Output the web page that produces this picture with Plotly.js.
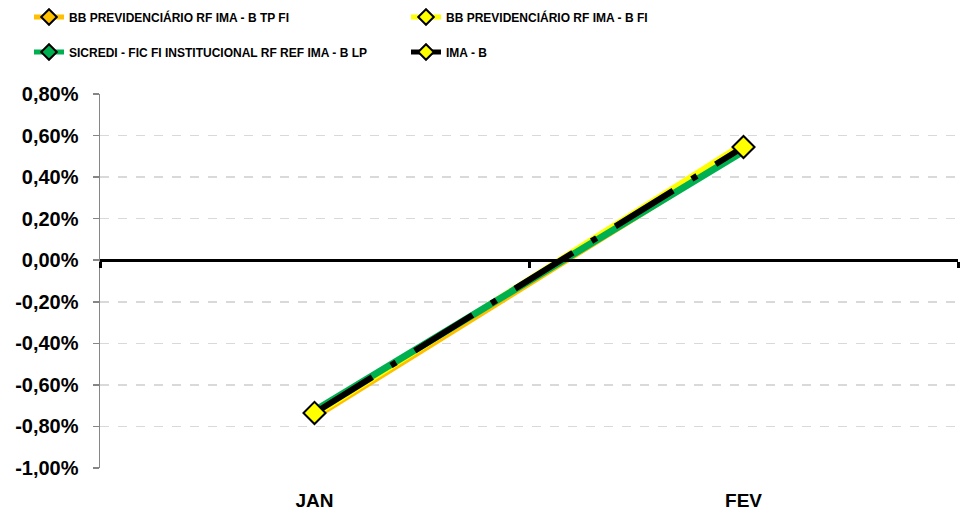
<!DOCTYPE html>
<html>
<head>
<meta charset="utf-8">
<script src="https://cdn.plot.ly/plotly-3.0.1.min.js"></script>
<style>html,body{margin:0;padding:0;background:#fff;}#chart{width:960px;height:514px;}</style>
</head>
<body>
<div id="chart"></div>
<script>
const months = ['JAN', 'FEV'];
const bbTpFi = [-0.755, 0.53];
const bbFi = [-0.745, 0.56];
const sicredi = [-0.725, 0.525];
const imaB = [-0.735, 0.545];
const seriesNames = [
  'BB PREVIDENCIÁRIO RF IMA - B TP FI',
  'BB PREVIDENCIÁRIO RF IMA - B FI',
  'SICREDI - FIC FI INSTITUCIONAL RF REF IMA - B LP',
  'IMA - B'
];
const yTickVals = [0.8, 0.6, 0.4, 0.2, 0, -0.2, -0.4, -0.6, -0.8, -1.0];
const yTickText = ['0,80%', '0,60%', '0,40%', '0,20%', '0,00%', '-0,20%', '-0,40%', '-0,60%', '-0,80%', '-1,00%'];

const legFont = {family: '"Liberation Sans", Arial, sans-serif', size: 12, color: '#000', weight: 'bold'};
const tickFont = {family: '"Liberation Sans", Arial, sans-serif', size: 20, color: '#000', weight: 'bold'};
const xTickFont = {family: '"Liberation Sans", Arial, sans-serif', size: 19, color: '#000', weight: 'bold'};

const traces = [
  {x: months, y: bbTpFi, name: seriesNames[0], type: 'scatter', mode: 'lines+markers', xaxis: 'x', legend: 'legend',
   line: {color: '#FFC000', width: 6}, marker: {symbol: 'diamond', size: 6, color: '#FFC000', line: {color: '#000', width: 1.5}}},
  {x: months, y: bbFi, name: seriesNames[1], type: 'scatter', mode: 'lines+markers', xaxis: 'x', legend: 'legend',
   line: {color: '#FFFF00', width: 6}, marker: {symbol: 'diamond', size: 6, color: '#FFFF00', line: {color: '#000', width: 1.5}}},
  {x: months, y: sicredi, name: seriesNames[2], type: 'scatter', mode: 'lines+markers', xaxis: 'x', legend: 'legend2',
   line: {color: '#00B050', width: 7}, marker: {symbol: 'diamond', size: 6, color: '#00B050', line: {color: '#000', width: 1.5}}},
  {x: months, y: imaB, name: seriesNames[3], type: 'scatter', mode: 'lines+markers', xaxis: 'x2', legend: 'legend2',
   line: {color: '#000000', width: 6, dash: '68px,22px,6px,22px'}, marker: {symbol: 'diamond', size: 17, color: '#FFFF00', line: {color: '#000', width: 2}}}
];

const legendBase = {
  orientation: 'h', xref: 'container', yref: 'container', xanchor: 'left', yanchor: 'middle',
  font: legFont, bgcolor: 'rgba(0,0,0,0)',
  entrywidth: 332, entrywidthmode: 'pixels', itemsizing: 'constant', traceorder: 'normal'
};

const layout = {
  width: 960, height: 514,
  margin: {l: 100, r: 2, t: 94, b: 46},
  paper_bgcolor: '#fff', plot_bgcolor: '#fff',
  showlegend: true,
  legend: Object.assign({}, legendBase, {x: 29 / 960, y: 1 - 17 / 514}),
  legend2: Object.assign({}, legendBase, {x: 29 / 960, y: 1 - 52 / 514}),
  xaxis: {
    type: 'category', categoryarray: months, range: [-0.5, 1.5],
    showline: false, showgrid: false, zeroline: false, ticks: '',
    tickfont: xTickFont, ticklabelstandoff: 19
  },
  xaxis2: {
    type: 'category', categoryarray: months, range: [-0.5, 1.5], overlaying: 'x',
    anchor: 'free', position: 1 / 1.8, side: 'bottom',
    showline: true, linecolor: '#000', linewidth: 3,
    showgrid: false, zeroline: false, showticklabels: false,
    ticks: 'outside', tickson: 'boundaries', ticklen: 6, tickwidth: 3, tickcolor: '#000'
  },
  yaxis: {
    range: [-1.0, 0.8], tickvals: yTickVals, ticktext: yTickText,
    showline: true, linecolor: '#868686', linewidth: 1.5,
    ticks: 'outside', ticklen: 6, tickcolor: '#868686', tickwidth: 1.5,
    showgrid: true, gridcolor: '#d9d9d9', gridwidth: 1.5, griddash: 'dash',
    zeroline: false, tickfont: tickFont, ticklabelstandoff: 10
  }
};

Plotly.newPlot('chart', traces, layout, {displayModeBar: false, staticPlot: true});
</script>
</body>
</html>
